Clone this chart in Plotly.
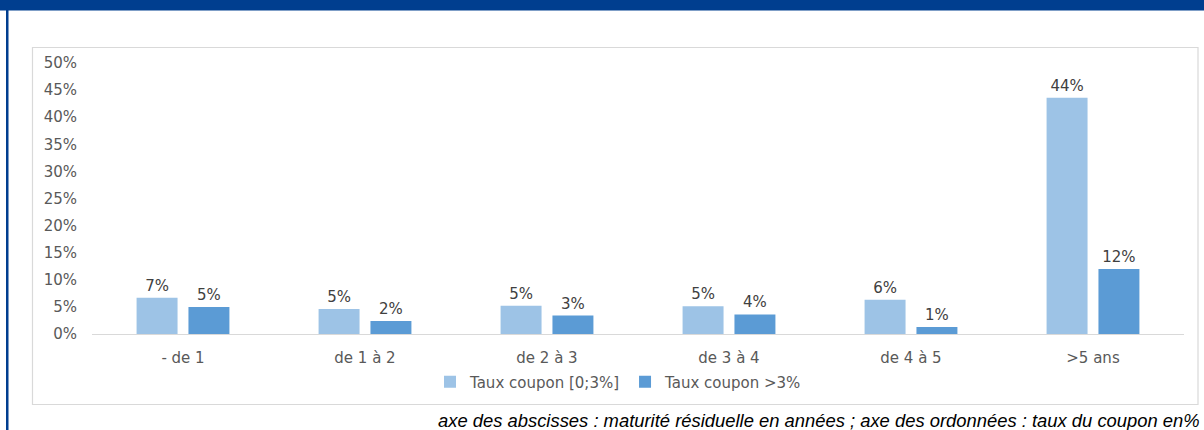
import plotly.graph_objects as go

# Residual maturity buckets and share of bonds per coupon-rate class
categories = ["- de 1", "de 1 à 2", "de 2 à 3", "de 3 à 4", "de 4 à 5", ">5 ans"]
coupon_low = [0.067, 0.046, 0.052, 0.051, 0.063, 0.436]
coupon_high = [0.050, 0.024, 0.034, 0.036, 0.013, 0.120]
series_names = ["Taux coupon [0;3%]", "Taux coupon >3%"]
y_ticks = [0.0, 0.05, 0.10, 0.15, 0.20, 0.25, 0.30, 0.35, 0.40, 0.45, 0.50]
footnote = ("axe des abscisses : maturité résiduelle en années ; "
            "axe des ordonnées : taux du coupon en%")

W, H = 1204, 430
ML, MR, MT, MB = 92, 20, 63, 96
PW, PH = W - ML - MR, H - MT - MB


def px_x(px):
    return (px - ML) / PW


def px_y(py):
    return (H - MB - py) / PH


FONT = "DejaVu Sans"
LABEL_COLOR = "#404040"
TICK_COLOR = "#595959"

fig = go.Figure()
for name, vals, color in [(series_names[0], coupon_low, "#9DC3E6"),
                          (series_names[1], coupon_high, "#5B9BD5")]:
    fig.add_trace(go.Bar(
        x=categories, y=vals, name=name,
        marker=dict(color=color, line=dict(width=0)),
        texttemplate="%{y:.0%}", textposition="outside",
        textfont=dict(family=FONT, size=15, color=LABEL_COLOR),
        cliponaxis=False, hoverinfo="x+y",
    ))

shapes = [
    # header band and left rule of the frame
    dict(type="rect", xref="paper", yref="paper",
         x0=px_x(0), x1=px_x(W), y0=px_y(0), y1=px_y(10.5),
         fillcolor="#003E8F", line=dict(width=0), layer="below"),
    dict(type="rect", xref="paper", yref="paper",
         x0=px_x(6), x1=px_x(8.5), y0=px_y(10), y1=px_y(H),
         fillcolor="#003E8F", line=dict(width=0), layer="below"),
    # chart box
    dict(type="rect", xref="paper", yref="paper",
         x0=px_x(32.5), x1=px_x(1198), y0=px_y(47.5), y1=px_y(404.5),
         fillcolor="rgba(0,0,0,0)", line=dict(color="#D9D9D9", width=1.2),
         layer="below"),
]

fig.update_layout(
    width=W, height=H, autosize=False,
    margin=dict(l=ML, r=MR, t=MT, b=MB),
    paper_bgcolor="white", plot_bgcolor="white",
    barmode="group", bargap=0.43, bargroupgap=0.21,
    font=dict(family=FONT, size=15, color=TICK_COLOR),
    shapes=shapes,
    showlegend=True,
    legend=dict(orientation="h", x=px_x(430), y=px_y(382),
                xanchor="left", yanchor="middle",
                font=dict(family=FONT, size=15, color=TICK_COLOR),
                itemwidth=30, bgcolor="rgba(0,0,0,0)"),
    annotations=[dict(
        text=footnote, xref="paper", yref="paper",
        x=px_x(1202), y=px_y(421), xanchor="right", yanchor="middle",
        showarrow=False,
        font=dict(family="Liberation Sans", size=18.4, color="#000000",
                  style="italic"),
    )],
)

fig.update_xaxes(
    showline=True, linecolor="#D9D9D9", linewidth=1.2,
    showgrid=False, ticks="", ticklabelstandoff=10,
    tickfont=dict(family=FONT, size=15, color=TICK_COLOR),
)
fig.update_yaxes(
    range=[0, 0.5], tickvals=y_ticks, tickformat=".0%",
    showgrid=False, zeroline=False, showline=False, ticks="",
    ticklabelstandoff=14,
    tickfont=dict(family=FONT, size=15, color=TICK_COLOR),
)

fig.write_html("out.html")
